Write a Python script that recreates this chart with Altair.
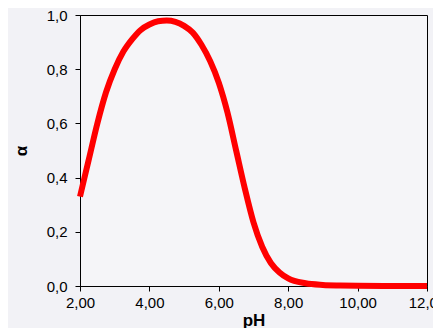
import altair as alt
import pandas as pd

ph = [2.0, 2.25, 2.5, 2.75, 3.0, 3.25, 3.5, 3.75, 4.0, 4.25, 4.5, 4.75, 5.0,
      5.25, 5.5, 5.75, 6.0, 6.25, 6.5, 6.75, 7.0, 7.25, 7.5, 7.75, 8.0, 8.5,
      9.0, 9.5, 10.0, 11.0, 12.0]
alpha = [0.33, 0.465, 0.60, 0.715, 0.80, 0.865, 0.91, 0.945, 0.965, 0.977, 0.98,
         0.975, 0.96, 0.935, 0.89, 0.83, 0.75, 0.64, 0.50, 0.36, 0.235, 0.145,
         0.085, 0.05, 0.028, 0.01, 0.004, 0.002, 0.001, 0.0, 0.0]
x_ticks = [2, 4, 6, 8, 10, 12]
y_ticks = [0.0, 0.2, 0.4, 0.6, 0.8, 1.0]

df = pd.DataFrame({"pH": ph, "alpha": alpha})

font = "Liberation Sans"

chart = alt.Chart(df).mark_line(color="#ff0000", strokeWidth=6, interpolate="monotone").encode(
    x=alt.X("pH:Q", scale=alt.Scale(domain=[2, 12], nice=False),
            axis=alt.Axis(values=x_ticks, title="pH", grid=False,
                          labelExpr="replace(format(datum.value, '.2f'), '.', ',')",
                          labelFontSize=15, titleFontSize=17, titleFontWeight="bold",
                          labelPadding=4, titlePadding=2, tickSize=5,
                          domainColor="black", tickColor="black", labelColor="black",
                          titleColor="black", labelFlush=False)),
    y=alt.Y("alpha:Q", scale=alt.Scale(domain=[0, 1], nice=False),
            axis=alt.Axis(values=y_ticks, title="α", grid=False,
                          labelExpr="replace(format(datum.value, '.1f'), '.', ',')",
                          labelFontSize=15, titleFontSize=17, titleFontWeight="bold",
                          labelPadding=8, titlePadding=16, tickSize=5,
                          domainColor="black", tickColor="black", labelColor="black",
                          titleColor="black", labelFlush=False)),
).properties(
    width=347, height=271,
    autosize=alt.AutoSizeParams(type="none"),
    padding={"left": 72, "top": 7, "right": 6, "bottom": 42},
    background="#f2f2f6",
).configure_view(
    stroke="black", strokeWidth=1, fill="#f5f5f8"
).configure_axis(
    labelFont=font, titleFont=font
)

chart.save("out.html", embed_options={"renderer": "svg", "actions": False})
